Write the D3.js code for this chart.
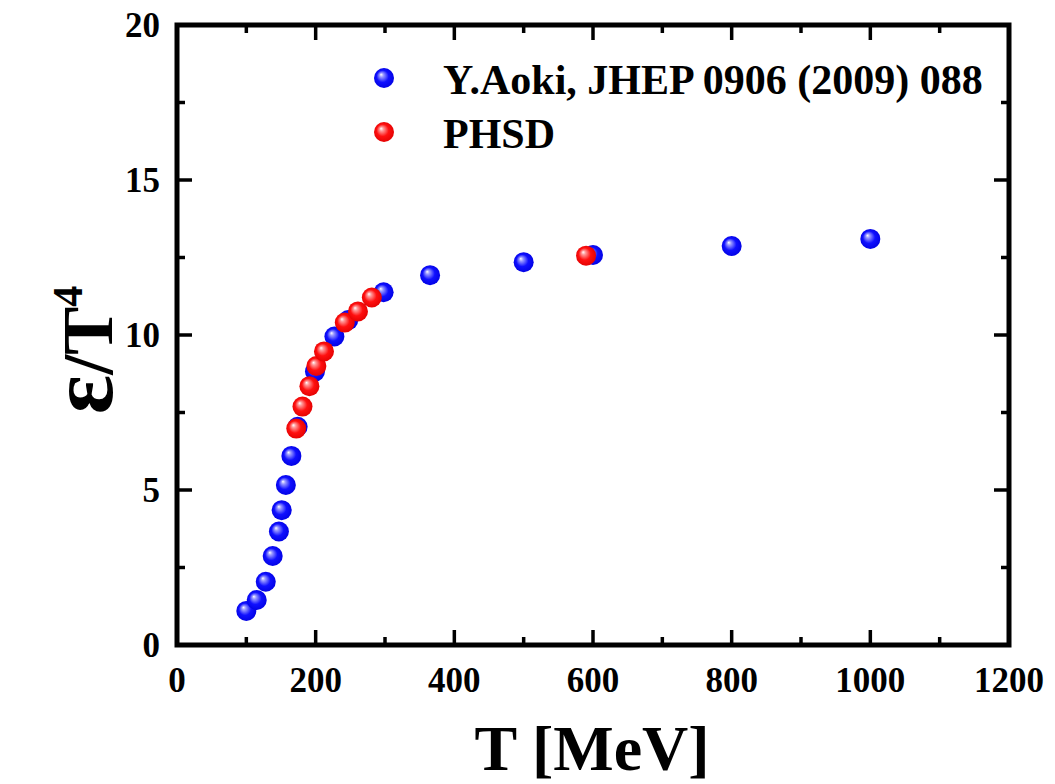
<!DOCTYPE html>
<html><head><meta charset="utf-8">
<script src="https://cdn.jsdelivr.net/npm/d3@7"></script>
<style>body{margin:0;background:#fff}svg{display:block}</style>
</head><body>
<svg id="c" width="1055" height="784"></svg>
<script>
const aokiT = [100,115,128,138,147,151,157,165,174,199,227,247,298,365,500,600,800,1000];
const aokiE = [1.10,1.45,2.04,2.87,3.66,4.35,5.16,6.10,7.04,8.82,9.95,10.48,11.38,11.93,12.35,12.58,12.87,13.10];
const phsdT = [172,181,191,201,212,242,261,281,590];
const phsdE = [6.98,7.69,8.35,9.00,9.47,10.40,10.76,11.21,12.56];
const xTicks = [0,200,400,600,800,1000,1200];
const yTicks = [0,5,10,15,20];
const legendLabels = ["Y.Aoki, JHEP 0906 (2009) 088","PHSD"];

const svg = d3.select("#c");
const L=177,R=1009,T=25,B=645;
const x = d3.scaleLinear().domain([0,1200]).range([L,R]);
const y = d3.scaleLinear().domain([0,20]).range([B,T]);
const font = "'Liberation Serif','Times New Roman',serif";

const defs = svg.append("defs");
function grad(id, c0, c1, c2){
  const g = defs.append("radialGradient").attr("id",id)
    .attr("cx","50%").attr("cy","50%").attr("r","55%").attr("fx","35%").attr("fy","32%");
  g.append("stop").attr("offset","0%").attr("stop-color","#ffffff");
  g.append("stop").attr("offset","18%").attr("stop-color",c0);
  g.append("stop").attr("offset","55%").attr("stop-color",c1);
  g.append("stop").attr("offset","100%").attr("stop-color",c2);
}
grad("gb","#9a9aff","#1010ff","#0000e0");
grad("gr","#ff9a9a","#ff1010","#e00000");

// ticks
const tk = svg.append("g").attr("stroke","#000").attr("stroke-width",3.5);
const major=15, minor=8;
d3.range(0,1201,100).forEach(v=>{
  const len = v%200===0?major:minor;
  if(v===0||v===1200) return;
  tk.append("line").attr("x1",x(v)).attr("x2",x(v)).attr("y1",B).attr("y2",B-len);
  tk.append("line").attr("x1",x(v)).attr("x2",x(v)).attr("y1",T).attr("y2",T+len);
});
d3.range(0,20.01,2.5).forEach(v=>{
  const len = v%5===0?major:minor;
  if(v===0||v===20) return;
  tk.append("line").attr("y1",y(v)).attr("y2",y(v)).attr("x1",L).attr("x2",L+len);
  tk.append("line").attr("y1",y(v)).attr("y2",y(v)).attr("x1",R).attr("x2",R-len);
});
// frame
svg.append("rect").attr("x",L).attr("y",T).attr("width",R-L).attr("height",B-T)
  .attr("fill","none").attr("stroke","#000").attr("stroke-width",5);

// tick labels
svg.append("g").selectAll("text").data(xTicks).join("text")
  .attr("x",d=>x(d)).attr("y",692).attr("text-anchor","middle")
  .attr("font-family",font).attr("font-weight","bold").attr("font-size",35)
  .text(d=>d);
svg.append("g").selectAll("text").data(yTicks).join("text")
  .attr("x",160).attr("y",d=>y(d)+12).attr("text-anchor","end")
  .attr("font-family",font).attr("font-weight","bold").attr("font-size",35)
  .text(d=>d);

// axis titles
svg.append("text").attr("x",592).attr("y",770).attr("text-anchor","middle")
  .attr("font-family",font).attr("font-weight","bold").attr("font-size",64)
  .text("T [MeV]");
const yl = svg.append("text").attr("transform","translate(112,350) rotate(-90)")
  .attr("text-anchor","middle").attr("font-family",font).attr("font-weight","bold").attr("font-size",72);
yl.append("tspan").attr("font-size",92).text("ε");
yl.append("tspan").text("/T");
yl.append("tspan").attr("font-size",42).attr("dy",-30).text("4");

// data
const r=10;
svg.append("g").selectAll("circle").data(aokiT.map((t,i)=>[t,aokiE[i]])).join("circle")
  .attr("cx",d=>x(d[0])).attr("cy",d=>y(d[1])).attr("r",r).attr("fill","url(#gb)");
svg.append("g").selectAll("circle").data(phsdT.map((t,i)=>[t,phsdE[i]])).join("circle")
  .attr("cx",d=>x(d[0])).attr("cy",d=>y(d[1])).attr("r",r).attr("fill","url(#gr)");

// legend
const lg = svg.append("g");
[["url(#gb)",78],["url(#gr)",132]].forEach((s,i)=>{
  lg.append("circle").attr("cx",384).attr("cy",s[1]).attr("r",r).attr("fill",s[0]);
  lg.append("text").attr("x",443).attr("y",s[1]+16)
    .attr("font-family",font).attr("font-weight","bold").attr("font-size",42)
    .text(legendLabels[i]);
});
</script>
</body></html>
